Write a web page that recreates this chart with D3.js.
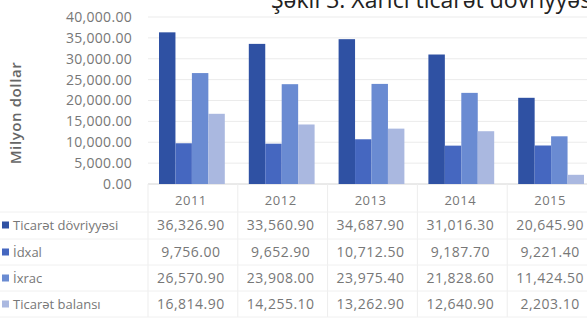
<!DOCTYPE html>
<html>
<head>
<meta charset="utf-8">
<script src="https://cdn.jsdelivr.net/npm/d3@7"></script>
<style>
  body { margin: 0; background: #fff; }
  svg { display: block; font-family: "Open Sans", sans-serif; }
</style>
</head>
<body>
<script>
// chart data
const years = ["2011", "2012", "2013", "2014", "2015"];
const seriesNames = ["Ticarət dövriyyəsi", "İdxal", "İxrac", "Ticarət balansı"];
const tradeTurnover = [36326.90, 33560.90, 34687.90, 31016.30, 20645.90];
const imports = [9756.00, 9652.90, 10712.50, 9187.70, 9221.40];
const exports = [26570.90, 23908.00, 23975.40, 21828.60, 11424.50];
const tradeBalance = [16814.90, 14255.10, 13262.90, 12640.90, 2203.10];
const yTicks = [0, 5000, 10000, 15000, 20000, 25000, 30000, 35000, 40000];
const colours = ["#2f51a3", "#4567c0", "#6a8bd2", "#aab8e0"];

const allSeries = [tradeTurnover, imports, exports, tradeBalance];

const width = 587, height = 319;
const svg = d3.select("body").append("svg")
    .attr("width", width)
    .attr("height", height);

// scales
const x0 = d3.scaleBand().domain(years).range([148, 597]).paddingInner(0);
const x1 = d3.scaleBand().domain(seriesNames).range([11, x0.bandwidth() - 13]);
const y = d3.scaleLinear().domain([0, 40000]).range([184, 17]);
const fmt = d3.format(",.2f");

// gridlines
svg.append("g")
   .selectAll("line")
   .data(yTicks)
   .enter()
   .append("line")
   .attr("x1", 148).attr("x2", width)
   .attr("y1", d => y(d)).attr("y2", d => y(d))
   .attr("stroke", d => d == 0 ? "#d4d4d4" : "#ebebeb")
   .attr("stroke-width", 1);

// y tick labels
svg.append("g")
   .selectAll("text")
   .data(yTicks)
   .enter()
   .append("text")
   .attr("x", 132)
   .attr("y", d => y(d))
   .attr("dy", "0.35em")
   .attr("text-anchor", "end")
   .style("font-size", "14px")
   .style("letter-spacing", "0.3px")
   .style("fill", "#777")
   .text(d => fmt(d));

// y axis title
svg.append("text")
   .attr("transform", "translate(21," + 113 + ") rotate(-90)")
   .attr("text-anchor", "middle")
   .style("font-size", "15px")
   .style("font-weight", "600")
   .style("letter-spacing", "0.6px")
   .style("fill", "#666")
   .text("Milyon dollar");

// bars
const groups = svg.append("g")
   .selectAll("g")
   .data(years)
   .enter()
   .append("g")
   .attr("transform", d => "translate(" + x0(d) + ",0)");

groups.selectAll("rect")
   .data((d, i) => seriesNames.map((s, j) => ({ name: s, value: allSeries[j][i], c: colours[j] })))
   .enter()
   .append("rect")
   .attr("x", d => x1(d.name))
   .attr("width", x1.bandwidth())
   .attr("y", d => y(d.value))
   .attr("height", d => y(0) - y(d.value))
   .attr("fill", d => d.c);

// data table
const rowY = [225, 252, 278, 304];

// table vertical separators
svg.append("g")
   .selectAll("line")
   .data(years.concat(["end"]))
   .enter()
   .append("line")
   .attr("x1", d => d == "end" ? 597 : x0(d))
   .attr("x2", d => d == "end" ? 597 : x0(d))
   .attr("y1", 184).attr("y2", 317)
   .attr("stroke", "#ededed");

// table horizontal separators
svg.append("g")
   .selectAll("line")
   .data([212, 239, 265, 291, 317])
   .enter()
   .append("line")
   .attr("x1", 0).attr("x2", width)
   .attr("y1", d => d).attr("y2", d => d)
   .attr("stroke", "#f0f0f0");

// header (categories)
svg.append("g")
   .selectAll("text")
   .data(years)
   .enter()
   .append("text")
   .attr("x", d => x0(d) + x0.bandwidth() / 2 - 2)
   .attr("y", 200)
   .attr("dy", "0.35em")
   .attr("text-anchor", "middle")
   .style("font-size", "13px")
   .style("letter-spacing", "0.5px")
   .style("fill", "#777")
   .text(d => d);

// rows
seriesNames.forEach(function(name, j){
    var row = svg.append("g").attr("class", "row");
    row.append("rect")
       .attr("x", 2).attr("y", rowY[j] - 3.5)
       .attr("width", 7).attr("height", 7)
       .attr("fill", colours[j]);
    row.append("text")
       .attr("x", 13)
       .attr("y", rowY[j])
       .attr("dy", "0.35em")
       .style("font-size", "13px")
       .style("fill", "#777")
       .text(name);
    row.selectAll(".val")
       .data(allSeries[j])
       .enter()
       .append("text")
       .attr("class", "val")
       .attr("x", (d, i) => x0(years[i]) + x0.bandwidth() / 2 - 2)
       .attr("y", rowY[j])
       .attr("dy", "0.35em")
       .attr("text-anchor", "middle")
       .style("font-size", "14px")
       .style("letter-spacing", "0.5px")
       .style("fill", "#777")
       .text(d => fmt(d));
});

// title (cut off at the top, as in the source)
svg.append("text")
   .attr("x", 271)
   .attr("y", 8)
   .style("font-size", "23px")
   .style("fill", "#222")
   .text("Şəkil 3. Xarici ticarət dövriyyəsi");
</script>
</body>
</html>
